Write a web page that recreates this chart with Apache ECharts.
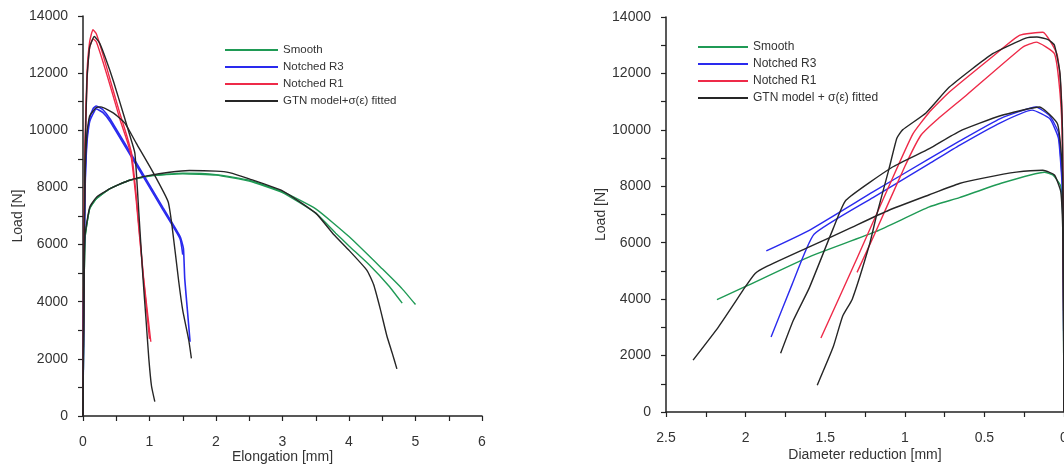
<!DOCTYPE html>
<html>
<head>
<meta charset="utf-8">
<script src="https://cdn.jsdelivr.net/npm/echarts@6/dist/echarts.min.js"></script>
<style>html,body{margin:0;padding:0;background:#fff;overflow:hidden;}#c{width:1064px;height:466px;}</style>
</head>
<body>
<div id="c"></div>
<script>
// ---------- Left chart: Load [N] vs Elongation [mm] ----------
const leftSmoothA = [[0,0],[0.01,3000],[0.03,6200],[0.1,7250],[0.2,7600],[0.4,7950],[0.7,8250],[1.0,8400],[1.5,8500],[2.0,8450],[2.5,8250],[3.0,7850],[3.5,7250],[4.0,6280],[4.5,5150],[4.8,4450],[5.0,3900]];
const leftSmoothB = [[0,0],[0.01,3000],[0.03,6200],[0.1,7250],[0.2,7600],[0.4,7950],[0.7,8250],[1.0,8400],[1.5,8480],[2.0,8430],[2.5,8220],[3.0,7820],[3.5,7100],[3.8,6400],[4.0,5950],[4.3,5300],[4.6,4550],[4.8,3950]];
const leftSmoothGTN = [[0,0],[0.01,3000],[0.03,6300],[0.1,7300],[0.2,7650],[0.4,7950],[0.7,8250],[1.0,8420],[1.3,8530],[1.6,8590],[2.0,8570],[2.2,8520],[2.5,8300],[3.0,7880],[3.5,7100],[3.77,6350],[4.0,5800],[4.27,5100],[4.37,4600],[4.47,3750],[4.57,2800],[4.65,2200],[4.72,1650]];
const leftR3A = [[0,0],[0.01,4000],[0.03,8000],[0.06,9800],[0.1,10400],[0.15,10750],[0.2,10850],[0.3,10720],[0.41,10385],[0.91,8440],[1.2,7300],[1.46,6280],[1.51,5870],[1.53,4800],[1.57,3700],[1.61,2600]];
const leftR3B = [[0,0],[0.01,3800],[0.03,7800],[0.06,9600],[0.1,10300],[0.2,10750],[0.3,10620],[0.41,10300],[0.91,8360],[1.2,7220],[1.46,6200],[1.5,5650]];
const leftR3GTN = [[0,0],[0.01,4000],[0.03,8200],[0.06,9900],[0.1,10500],[0.2,10800],[0.27,10820],[0.46,10600],[0.63,10250],[0.8,9550],[1.06,8500],[1.28,7500],[1.34,6630],[1.44,4700],[1.5,3700],[1.59,2660],[1.63,2020]];
const leftR1A = [[0,0],[0.01,5000],[0.03,9500],[0.06,12000],[0.1,13100],[0.15,13520],[0.2,13380],[0.3,12650],[0.41,11750],[0.56,10550],[0.66,9800],[0.73,9200],[0.8,7700],[0.91,4850],[1.02,2600]];
const leftR1B = [[0,0],[0.01,4500],[0.03,9000],[0.06,11700],[0.1,12900],[0.15,13200],[0.2,13100],[0.3,12400],[0.41,11550],[0.56,10350],[0.66,9650],[0.72,9150],[0.8,7550],[0.91,4800],[1.0,2700]];
const leftR1GTN = [[0,0],[0.01,4500],[0.03,9000],[0.06,11800],[0.1,12900],[0.17,13280],[0.25,13050],[0.35,12450],[0.46,11700],[0.61,10550],[0.7,9850],[0.78,9200],[0.84,7100],[0.9,4900],[0.95,3300],[0.99,2000],[1.03,1050],[1.08,500]];

// ---------- Right chart: Load [N] vs Diameter reduction [mm] ----------
const rightSmooth = [[0,0],[0.003,3000],[0.006,6500],[0.02,8000],[0.07,8400],[0.123,8500],[0.4,8100],[0.657,7600],[0.846,7270],[1.18,6400],[1.6,5500],[2.0,4450],[2.18,3980]];
const rightSmoothGTN = [[0,0],[0.003,3000],[0.006,6000],[0.02,7800],[0.06,8400],[0.133,8570],[0.3,8500],[0.5,8300],[0.657,8100],[0.846,7700],[1.1,7150],[1.35,6500],[1.6,5850],[1.87,5150],[1.94,4910],[2.0,4450],[2.17,3020],[2.33,1840]];
const rightR3A = [[0,0],[0.003,4000],[0.01,8000],[0.035,9900],[0.09,10500],[0.175,10810],[0.4,10400],[0.657,9600],[0.846,8980],[1.2,7800],[1.6,6440],[1.87,5710]];
const rightR3B = [[0,0],[0.003,3500],[0.01,7800],[0.035,9700],[0.09,10400],[0.2,10700],[0.4,10250],[0.657,9450],[0.846,8800],[1.2,7600],[1.57,6300],[1.706,4550],[1.84,2660]];
const rightR3GTN = [[0,0],[0.003,4000],[0.01,8500],[0.04,10200],[0.154,10810],[0.4,10500],[0.657,9950],[0.846,9335],[1.077,8684],[1.37,7505],[1.45,6500],[1.6,4400],[1.7,3250],[1.78,2078]];
const rightR1A = [[0,0],[0.003,5000],[0.01,10000],[0.02,11500],[0.045,12700],[0.133,13460],[0.28,13350],[0.448,12600],[0.72,11340],[0.85,10600],[0.95,9850],[1.1,8000],[1.3,5450],[1.527,2620]];
const rightR1B = [[0,0],[0.003,4500],[0.01,9500],[0.025,11300],[0.06,12700],[0.175,13110],[0.26,12930],[0.615,11220],[0.8,10350],[0.9,9800],[1.0,8700],[1.19,6300],[1.3,4950]];
const rightR1GTN = [[0,0],[0.003,5000],[0.01,10000],[0.025,12000],[0.06,13000],[0.1,13200],[0.17,13290],[0.24,13250],[0.448,12700],[0.72,11516],[0.867,10600],[1.014,10000],[1.05,9700],[1.1,8600],[1.18,6913],[1.22,5972],[1.33,4000],[1.39,3400],[1.45,2300],[1.55,950]];

// ---------- Labels ----------
const legendLeft = ['Smooth', 'Notched R3', 'Notched R1', 'GTN model+σ(ε) fitted'];
const legendRight = ['Smooth', 'Notched R3', 'Notched R1', 'GTN model + σ(ε) fitted'];
const axisNames = {leftX: 'Elongation [mm]', rightX: 'Diameter reduction [mm]', y: 'Load [N]'};

const GREEN = '#1f9a55', BLUE = '#2a2aee', RED = '#ee2a48', BLACK = '#262626';
const FONT = 'Liberation Sans, Arial, sans-serif';

function ln(name, data, color, xi, w) {
  return {type: 'line', name: name, data: data, xAxisIndex: xi, yAxisIndex: xi,
    showSymbol: false, symbol: 'none', smooth: 0.15, lineStyle: {color: color, width: w || 1.4},
    itemStyle: {color: color}, emphasis: {disabled: true}, animation: false};
}

function yAx(gi) {
  return {type: 'value', gridIndex: gi, min: 0, max: 14000, interval: 1000, position: 'left',
    name: axisNames.y, nameLocation: 'middle', nameGap: 58, nameRotate: 90, nameMoveOverlap: false,
    nameTextStyle: {color: '#333', fontSize: 14, fontFamily: FONT},
    axisLine: {show: true, onZero: false, lineStyle: {color: '#222', width: 1.5}},
    axisTick: {show: true, length: 5, lineStyle: {color: '#222', width: 1.2}},
    axisLabel: {color: '#333', fontSize: 14, fontFamily: FONT, margin: 15,
      formatter: v => (Math.round(v) % 2000 === 0 ? String(Math.round(v)) : '')},
    splitLine: {show: false}};
}

const chart = echarts.init(document.getElementById('c'), null, {renderer: 'canvas', width: 1064, height: 466});
chart.setOption({
  backgroundColor: '#fff',
  animation: false,
  grid: [
    {left: 83, top: 16, width: 399, height: 400, containLabel: false, outerBoundsMode: 'none'},
    {left: 666, top: 17, width: 398, height: 395, containLabel: false, outerBoundsMode: 'none'}
  ],
  legend: [
    {data: legendLeft, orient: 'vertical', left: 220, top: 39, itemWidth: 53, itemHeight: 2, icon: 'rect',
      itemGap: 5, selectedMode: false, textStyle: {color: '#333', fontSize: 11.5, fontFamily: FONT}},
    {data: legendRight, orient: 'vertical', left: 693, top: 36, itemWidth: 50, itemHeight: 2, icon: 'rect',
      itemGap: 5, selectedMode: false, textStyle: {color: '#333', fontSize: 12, fontFamily: FONT}}
  ],
  xAxis: [
    {type: 'value', gridIndex: 0, min: 0, max: 6, interval: 0.5, position: 'bottom',
      name: axisNames.leftX, nameLocation: 'middle', nameGap: 34, nameMoveOverlap: false,
      nameTextStyle: {color: '#333', fontSize: 14, fontFamily: FONT},
      axisLine: {show: true, onZero: false, lineStyle: {color: '#222', width: 1.5}},
      axisTick: {show: true, length: 5, lineStyle: {color: '#222', width: 1.2}},
      axisLabel: {color: '#333', fontSize: 14, fontFamily: FONT, margin: 19,
        formatter: v => (Math.abs(v - Math.round(v)) < 1e-6 ? String(Math.round(v)) : '')},
      splitLine: {show: false}},
    {type: 'value', gridIndex: 1, min: 0, max: 2.5, interval: 0.25, inverse: true, position: 'bottom',
      name: axisNames.rightX, nameLocation: 'middle', nameGap: 36, nameMoveOverlap: false,
      nameTextStyle: {color: '#333', fontSize: 14, fontFamily: FONT},
      axisLine: {show: true, onZero: false, lineStyle: {color: '#222', width: 1.5}},
      axisTick: {show: true, length: 5, lineStyle: {color: '#222', width: 1.2}},
      axisLabel: {color: '#333', fontSize: 14, fontFamily: FONT, margin: 19,
        formatter: v => (Math.abs(v * 2 - Math.round(v * 2)) < 1e-6 ? String(+v.toFixed(1)) : '')},
      splitLine: {show: false}}
  ],
  yAxis: [yAx(0), yAx(1)],
  series: [
    ln('Smooth', leftSmoothA, GREEN, 0),
    ln('Smooth', leftSmoothB, GREEN, 0),
    ln('Notched R3', leftR3A, BLUE, 0, 1.6),
    ln('Notched R3', leftR3B, BLUE, 0, 1.6),
    ln('Notched R1', leftR1A, RED, 0),
    ln('Notched R1', leftR1B, RED, 0),
    ln(legendLeft[3], leftSmoothGTN, BLACK, 0),
    ln(legendLeft[3], leftR3GTN, BLACK, 0),
    ln(legendLeft[3], leftR1GTN, BLACK, 0),

    ln('Smooth', rightSmooth, GREEN, 1),
    ln('Notched R3', rightR3A, BLUE, 1),
    ln('Notched R3', rightR3B, BLUE, 1),
    ln('Notched R1', rightR1A, RED, 1),
    ln('Notched R1', rightR1B, RED, 1),
    ln(legendRight[3], rightSmoothGTN, BLACK, 1),
    ln(legendRight[3], rightR3GTN, BLACK, 1),
    ln(legendRight[3], rightR1GTN, BLACK, 1)
  ]
});
</script>
</body>
</html>
